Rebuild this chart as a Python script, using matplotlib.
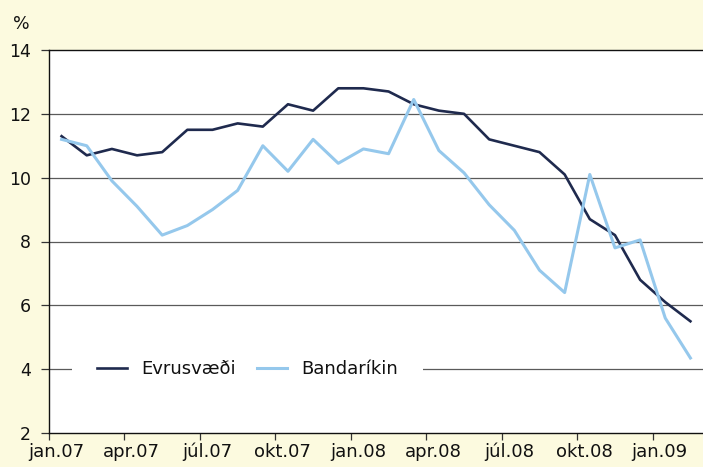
import matplotlib
matplotlib.use("Agg")
import matplotlib.pyplot as plt
import numpy as np

months = ["jan.07","feb.07","mar.07","apr.07","maí.07","jún.07","júl.07","ágú.07","sep.07","okt.07","nóv.07","des.07",
          "jan.08","feb.08","mar.08","apr.08","maí.08","jún.08","júl.08","ágú.08","sep.08","okt.08","nóv.08","des.08",
          "jan.09","feb.09"]
evrusvaedi = [11.3, 10.7, 10.9, 10.7, 10.8, 11.5, 11.5, 11.7, 11.6, 12.3, 12.1, 12.8, 12.8,
              12.7, 12.3, 12.1, 12.0, 11.2, 11.0, 10.8, 10.1, 8.7, 8.2, 6.8, 6.1, 5.5]
bandarikin = [11.2, 11.0, 9.9, 9.1, 8.2, 8.5, 9.0, 9.6, 11.0, 10.2, 11.2, 10.45, 10.9,
              10.75, 12.45, 10.85, 10.15, 9.15, 8.35, 7.1, 6.4, 10.1, 7.8, 8.05, 5.6, 4.35]
tick_labels = ["jan.07","apr.07","júl.07","okt.07","jan.08","apr.08","júl.08","okt.08","jan.09"]
yticks = [2, 4, 6, 8, 10, 12, 14]

bg = '#FCFADF'
fig = plt.figure(figsize=(7.03, 4.67), dpi=100, facecolor=bg)
ax = fig.add_axes([49/703, 34/467, 654/703, 383/467])
ax.set_facecolor('white')

x = np.arange(len(months))
for yv in [4, 6, 8, 10, 12]:
    ax.axhline(yv, color='#5a5a5a', lw=0.9, zorder=1)

ax.plot(x, evrusvaedi, color='#1F2A4E', lw=1.9, label='Evrusvæði', zorder=3)
ax.plot(x, bandarikin, color='#95C8EC', lw=2.2, label='Bandaríkin', zorder=3)

ax.set_xlim(-0.5, len(months) - 0.5)
ax.set_ylim(2, 14)

major = np.arange(0, len(months), 3) - 0.5
ax.set_xticks(major)
ax.set_xticklabels([])
ax.set_xticks(major + 0.28, minor=True)
ax.set_xticklabels(tick_labels, minor=True)
ax.tick_params(axis='x', which='major', length=5, width=0.9, direction='out', color='#333333')
ax.tick_params(axis='x', which='minor', length=0, pad=7, labelsize=13, labelcolor='#111111')

ax.set_yticks(yticks)
ax.set_yticklabels([str(v) for v in yticks])
ax.tick_params(axis='y', length=6, width=0.9, pad=7, labelsize=12.5, labelcolor='#111111', color='#333333')

for s in ['left', 'bottom', 'top']:
    ax.spines[s].set_color('#111111')
    ax.spines[s].set_linewidth(1.0)
ax.spines['right'].set_visible(False)

leg = ax.legend(loc='center', bbox_to_anchor=(0.3035, 0.167), ncol=2, frameon=True,
                facecolor='white', edgecolor='white', framealpha=1, fontsize=13,
                handlelength=1.67, handletextpad=0.78, columnspacing=1.17, borderpad=1.4,
                fancybox=False)
leg.get_frame().set_linewidth(0)
for t in leg.get_texts():
    t.set_color('#111111')

fig.text(13/703, 1 - 24/467, '%', fontsize=12.5, va='center', ha='left', color='#111111')

fig.savefig('out.png', dpi=100, facecolor=bg)
